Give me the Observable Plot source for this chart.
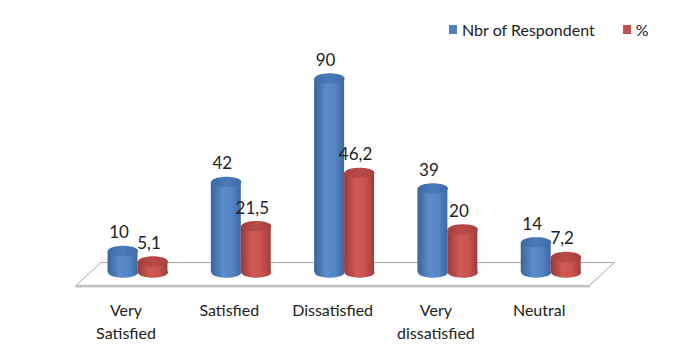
<!DOCTYPE html>
<html>
<head>
<meta charset="utf-8">
<script src="https://cdn.jsdelivr.net/npm/d3@7"></script>
<script src="https://cdn.jsdelivr.net/npm/@observablehq/plot@0.6"></script>
<style>
  body { margin: 0; background: #fff; font-family: Lato, "Open Sans", sans-serif; }
  #wrap { position: relative; width: 692px; height: 352px; }
  #legend { position: absolute; left: 449px; top: 20px; font-size: 16px; color: #222; display: flex; align-items: center; white-space: nowrap; }
  .sw { display: inline-block; width: 8px; height: 9px; margin-right: 5px; }
</style>
</head>
<body>
<div id="wrap">
  <div id="chart"></div>
  <div id="legend"></div>
</div>
<script>
const categories = ["Very\nSatisfied", "Satisfied", "Dissatisfied", "Very\ndissatisfied", "Neutral"];
const seriesNames = ["Nbr of Respondent", "%"];
const respondents = [10, 42, 90, 39, 14];
const percents = [5.1, 21.5, 46.2, 20, 7.2];
const respondentLabels = ["10", "42", "90", "39", "14"];
const percentLabels = ["5,1", "21,5", "46,2", "20", "7,2"];
const seriesColors = ["#4f81bd", "#c0504d"];

// geometry (in scale units)
const halfW = 0.145;   // half cylinder width, category units
const ry = 2.4;        // ellipse vertical radius, value units
const N = 48;

const rows = [];
categories.forEach((c, i) => {
  rows.push({i, s: 0, x: i - halfW, v: respondents[i], label: respondentLabels[i]});
  rows.push({i, s: 1, x: i + halfW, v: percents[i], label: percentLabels[i]});
});

function ellipse(r, base) {
  const pts = [];
  for (let k = 0; k <= N; k++) {
    const t = (2 * Math.PI * k) / N;
    pts.push({id: `${r.s}-${r.i}-${base}`, s: r.s, x: r.x + halfW * Math.cos(t), y: base + ry * Math.sin(t)});
  }
  return pts;
}
const bottoms = rows.flatMap(r => ellipse(r, 0));
const tops = rows.flatMap(r => ellipse(r, r.v));

// floor parallelogram derived from category extent
const n = categories.length;
const fl = -0.6, fr = n - 0.63, depthX = 0.242, yFront = -6, yBack = 4.6;
const floor = [
  {x: fl, y: yFront}, {x: fr, y: yFront}, {x: fr + depthX, y: yBack}, {x: fl + depthX, y: yBack}, {x: fl, y: yFront}
];
const floorFront = [{x: fl, y: yFront}, {x: fr, y: yFront}];

function defs() {
  const d = d3.create("svg:defs");
  const mk = (id, stops) => {
    const g = d.append("linearGradient").attr("id", id).attr("x1", 0).attr("x2", 1).attr("y1", 0).attr("y2", 0);
    stops.forEach(([o, c]) => g.append("stop").attr("offset", o).attr("stop-color", c));
  };
  mk("gBlue", [[0, "#3b6497"], [0.4, "#5b8dce"], [0.7, "#5384c4"], [1, "#3d68a3"]]);
  mk("gRed", [[0, "#973a37"], [0.4, "#d05a56"], [0.7, "#c8534f"], [1, "#9e3d3a"]]);
  mk("tBlue", [[0, "#3f6ba6"], [0.5, "#4c7bbb"], [1, "#3f6ba6"]]);
  mk("tRed", [[0, "#a6413e"], [0.5, "#b94b48"], [1, "#a6413e"]]);
  return d.node();
}

const bodyFill = ["url(#gBlue)", "url(#gRed)"];
const topFill = ["url(#tBlue)", "url(#tRed)"];

const marks = [
  defs,
  Plot.line(floor, {x: "x", y: "y", fill: "white", stroke: "#a8a8a8", strokeWidth: 1}),
  Plot.line(floorFront, {x: "x", y: "y", stroke: "#c8c8c8", strokeWidth: 2, dy: 1}),
];
[0, 1].forEach(s => {
  const rs = rows.filter(r => r.s === s);
  marks.push(
    Plot.line(bottoms.filter(p => p.s === s), {x: "x", y: "y", z: "id", fill: bodyFill[s], stroke: "none", curve: "linear"}),
    Plot.rect(rs, {x1: d => d.x - halfW, x2: d => d.x + halfW, y1: 0, y2: "v", fill: bodyFill[s]}),
    Plot.line(tops.filter(p => p.s === s), {x: "x", y: "y", z: "id", fill: topFill[s], stroke: "none"})
  );
});
marks.push(
  Plot.text(rows, {x: "x", y: "v", text: "label", dy: -18, dx: -4, fontSize: 17, fill: "#222"}),
  Plot.axisX({ticks: d3.range(n), tickFormat: i => categories[i], tickSize: 0, tickPadding: 27, fontSize: 16, lineHeight: 1.45, dx: -12, fill: "#222", label: null})
);

const chart = Plot.plot({
  width: 692,
  height: 352,
  marginLeft: 0, marginRight: 0, marginTop: 0, marginBottom: 80,
  style: {fontFamily: "Lato, 'Open Sans', sans-serif", background: "white", overflow: "visible"},
  x: {domain: [-137.5 / 103.3, (692 - 137.5) / 103.3], axis: null},
  y: {domain: [0, 272 / 2.156], axis: null},
  marks
});
document.getElementById("chart").appendChild(chart);

const legend = document.getElementById("legend");
seriesNames.forEach((name, k) => {
  const item = document.createElement("span");
  item.style.display = "inline-flex";
  item.style.alignItems = "center";
  item.style.marginRight = k === 0 ? "28px" : "0";
  item.innerHTML = `<span class="sw" style="background:${seriesColors[k]}"></span>${name}`;
  legend.appendChild(item);
});
</script>
</body>
</html>
